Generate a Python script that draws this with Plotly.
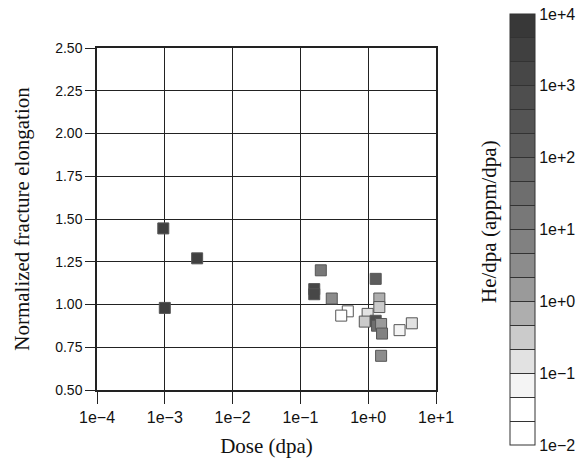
import numpy as np
import plotly.graph_objects as go

# ---- data ----
dose = [0.00095, 0.003, 0.001,
        0.20, 1.29, 0.16, 0.16, 0.29, 1.46, 1.46, 0.50, 0.40, 0.98,
        0.89, 1.29, 1.35, 1.55, 1.60, 2.9, 4.4, 1.55]
elong = [1.445, 1.27, 0.98,
         1.20, 1.15, 1.09, 1.06, 1.035, 1.035, 0.985, 0.96, 0.935, 0.945,
         0.90, 0.905, 0.876, 0.886, 0.83, 0.85, 0.89, 0.70]
he_dpa = [3000, 3000, 3000,
          15, 200, 1000, 1000, 3, 0.8, 0.4, 0.03, 0.03, 0.1,
          0.3, 600, 30, 1.5, 6, 0.05, 0.2, 3]

x_tickvals = [1e-4, 1e-3, 1e-2, 1e-1, 1e0, 1e1]
x_ticktext = ["1e\u22124", "1e\u22123", "1e\u22122", "1e\u22121", "1e+0", "1e+1"]
y_tickvals = [0.50, 0.75, 1.00, 1.25, 1.50, 1.75, 2.00, 2.25, 2.50]
cb_labels = {-2: "1e\u22122", -1: "1e\u22121", 0: "1e+0", 1: "1e+1",
             2: "1e+2", 3: "1e+3", 4: "1e+4"}

# stepped grayscale bands, bottom (1e-2) to top (1e+4)
band_colors = ["#ffffff", "#ffffff", "#f4f4f4", "#e2e2e2", "#cbcbcb", "#aeaeae",
               "#9a9a9a", "#8c8c8c", "#818181", "#787878", "#6e6e6e", "#666666",
               "#5c5c5c", "#545454", "#4e4e4e", "#474747", "#404040", "#383838"]
nb = len(band_colors)
colorscale = []
for i, c in enumerate(band_colors):
    colorscale.append([i / nb, c])
    colorscale.append([(i + 1) / nb, c])

cb_vals = [-2 + 6 * i / nb for i in range(nb + 1)]
cb_text = [cb_labels.get(round(v), "") if abs(v - round(v)) < 1e-6 else "" for v in cb_vals]

W, H = 579, 462
L, R, T, B = 97, 143, 48, 72
PW, PH = W - L - R, H - T - B

fig = go.Figure()
fig.add_trace(go.Scatter(
    x=dose, y=elong, mode="markers",
    marker=dict(symbol="square", size=11,
                color=np.log10(he_dpa), cmin=-2, cmax=4,
                colorscale=colorscale,
                line=dict(color="#555555", width=1),
                colorbar=dict(
                    x=(510 - L) / PW, xanchor="left", xpad=0,
                    y=(H - B - 229.5) / PH, yanchor="middle", ypad=0,
                    lenmode="pixels", len=431, thickness=25,
                    outlinewidth=1, outlinecolor="#333333",
                    tickmode="array", tickvals=cb_vals, ticktext=cb_text,
                    ticks="inside", ticklen=25, tickwidth=1, tickcolor="#333333",
                    tickfont=dict(family="Liberation Sans, Arial", size=16, color="#111111"),
                )),
    showlegend=False,
))

fig.add_annotation(
    text="He/dpa (appm/dpa)", textangle=-90,
    xref="paper", yref="paper",
    x=(489 - L) / PW, y=(H - B - 222) / PH,
    xanchor="center", yanchor="middle", showarrow=False,
    font=dict(family="Liberation Serif, Times New Roman", size=21, color="#111111"),
)

axis_common = dict(
    showgrid=True, gridcolor="#222222", gridwidth=1,
    showline=True, linecolor="#222222", linewidth=1.5, mirror=True,
    ticks="outside", tickcolor="#222222", tickwidth=1.2,
    zeroline=False,
)

fig.update_xaxes(
    type="log", range=[-4, 1], tickmode="array",
    tickvals=x_tickvals, ticktext=x_ticktext, ticklen=12,
    tickfont=dict(family="Liberation Sans, Arial", size=16, color="#111111"),
    title=dict(text="Dose (dpa)", standoff=13,
               font=dict(family="Liberation Serif, Times New Roman", size=21, color="#111111")),
    **axis_common,
)
fig.update_yaxes(
    range=[0.5, 2.5], tickmode="array", tickvals=y_tickvals,
    tickformat=".2f", ticklen=10,
    tickfont=dict(family="Liberation Sans, Arial", size=14, color="#111111"),
    title=dict(text="Normalized fracture elongation", standoff=20,
               font=dict(family="Liberation Serif, Times New Roman", size=21, color="#111111")),
    **axis_common,
)

fig.update_layout(
    width=W, height=H,
    margin=dict(l=L, r=R, t=T, b=B, autoexpand=False),
    paper_bgcolor="white", plot_bgcolor="white",
)

# remove the browser's default 8px page margin so the figure fills the window
fig.write_html("out.html",
               config={"displayModeBar": False},
               post_script="document.body.style.margin='0';document.body.style.overflow='hidden';")
